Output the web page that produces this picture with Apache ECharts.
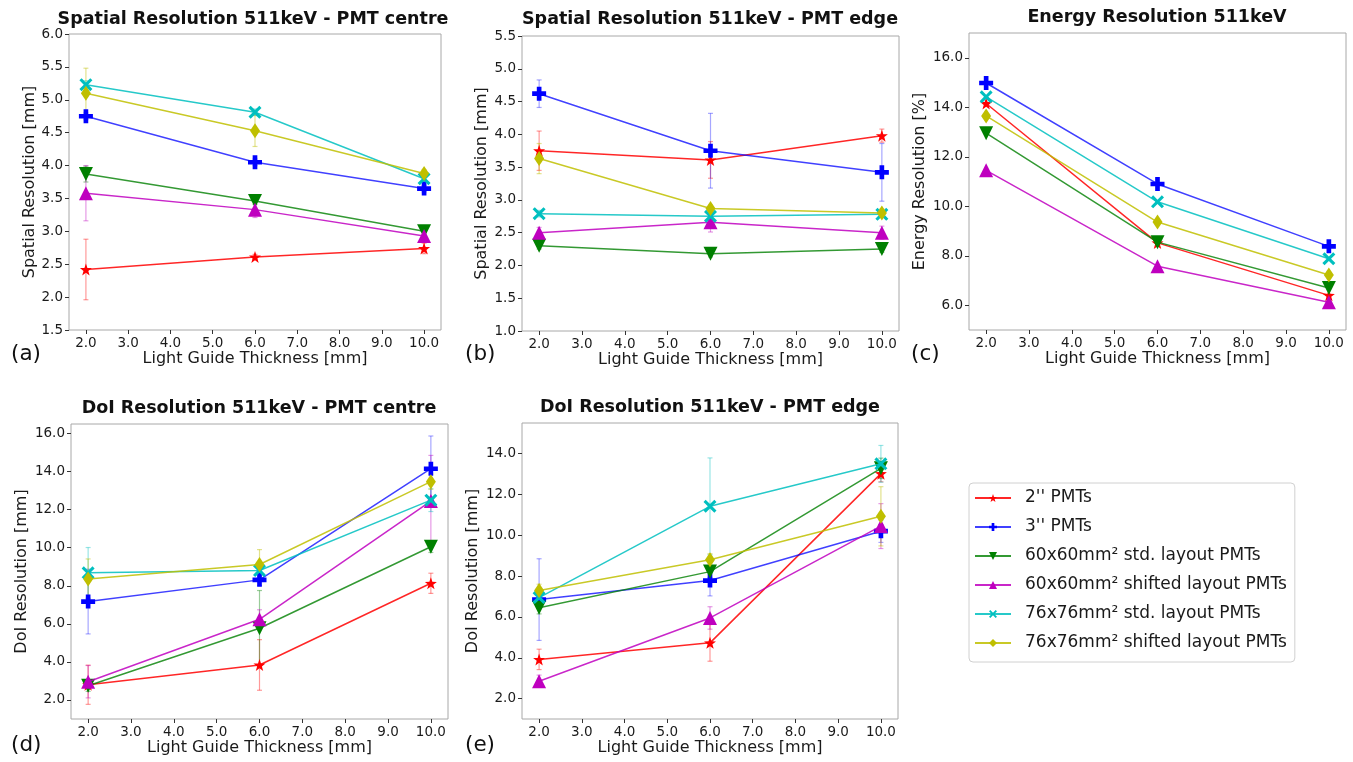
<!DOCTYPE html>
<html>
<head>
<meta charset="utf-8">
<script src="https://cdn.jsdelivr.net/npm/echarts@6/dist/echarts.min.js"></script>
<style>
html,body{margin:0;padding:0;background:#fff;}
#chart{width:1353px;height:762px;}
</style>
</head>
<body>
<div id="chart"></div>
<script>
// ---------- data ----------
const thickness = [2, 6, 10];
const xTickValues = [2, 3, 4, 5, 6, 7, 8, 9, 10];
const seriesNames = ["2'' PMTs", "3'' PMTs", "60x60mm² std. layout PMTs", "60x60mm² shifted layout PMTs", "76x76mm² std. layout PMTs", "76x76mm² shifted layout PMTs"];
const panelTitles = ["Spatial Resolution 511keV - PMT centre", "Spatial Resolution 511keV - PMT edge", "Energy Resolution 511keV", "DoI Resolution 511keV - PMT centre", "DoI Resolution 511keV - PMT edge"];
const panelLetters = ["(a)", "(b)", "(c)", "(d)", "(e)"];
const yAxisNames = ["Spatial Resolution [mm]", "Spatial Resolution [mm]", "Energy Resolution [%]", "DoI Resolution [mm]", "DoI Resolution [mm]"];
const xAxisName = "Light Guide Thickness [mm]";

const yTicksA = [1.5, 2.0, 2.5, 3.0, 3.5, 4.0, 4.5, 5.0, 5.5, 6.0];
const yTicksB = [1.0, 1.5, 2.0, 2.5, 3.0, 3.5, 4.0, 4.5, 5.0, 5.5];
const yTicksC = [6, 8, 10, 12, 14, 16];
const yTicksD = [2, 4, 6, 8, 10, 12, 14, 16];
const yTicksE = [2, 4, 6, 8, 10, 12, 14];

// (a) spatial resolution, PMT centre
const spatialCentre = [
  [2.42, 2.61, 2.74],
  [4.75, 4.05, 3.65],
  [3.87, 3.46, 3.00],
  [3.58, 3.33, 2.93],
  [5.23, 4.81, 3.80],
  [5.10, 4.53, 3.88]
];
const spatialCentreErr = [
  [0.46, 0.04, 0.08],
  [0.05, 0.05, 0.05],
  [0.12, 0.05, 0.05],
  [0.42, 0.12, 0.05],
  [0.06, 0.05, 0.05],
  [0.38, 0.24, 0.06]
];
// (b) spatial resolution, PMT edge
const spatialEdge = [
  [3.75, 3.61, 3.98],
  [4.62, 3.75, 3.42],
  [2.30, 2.18, 2.25],
  [2.50, 2.66, 2.50],
  [2.79, 2.75, 2.78],
  [3.63, 2.87, 2.80]
];
const spatialEdgeErr = [
  [0.30, 0.28, 0.10],
  [0.21, 0.57, 0.44],
  [0.05, 0.05, 0.05],
  [0.08, 0.15, 0.10],
  [0.05, 0.05, 0.05],
  [0.23, 0.05, 0.06]
];
// (c) energy resolution
const energyRes = [
  [14.15, 8.52, 6.40],
  [14.98, 10.90, 8.38],
  [12.95, 8.55, 6.70],
  [11.45, 7.58, 6.12],
  [14.42, 10.18, 7.88],
  [13.65, 9.36, 7.22]
];
const energyResErr = [
  [0, 0, 0],
  [0, 0, 0],
  [0, 0, 0],
  [0, 0, 0],
  [0, 0, 0],
  [0, 0, 0]
];
// (d) DoI resolution, PMT centre
const doiCentre = [
  [2.80, 3.84, 8.13],
  [7.17, 8.31, 14.15],
  [2.75, 5.77, 10.05],
  [2.96, 6.24, 12.45],
  [8.68, 8.80, 12.50],
  [8.36, 9.12, 13.47]
];
const doiCentreErr = [
  [1.03, 1.33, 0.53],
  [1.70, 0.30, 1.72],
  [0.30, 1.98, 0.30],
  [0.85, 0.50, 2.40],
  [1.33, 0.30, 0.60],
  [1.05, 0.78, 0.40]
];
// (e) DoI resolution, PMT edge
const doiEdge = [
  [3.92, 4.73, 13.02],
  [6.85, 7.78, 10.20],
  [6.45, 8.22, 13.28],
  [2.85, 5.95, 10.45],
  [6.95, 11.42, 13.50],
  [7.30, 8.80, 10.93]
];
const doiEdgeErr = [
  [0.50, 0.90, 0.40],
  [2.00, 0.75, 0.55],
  [0.30, 0.30, 0.50],
  [0.30, 0.55, 1.10],
  [0.30, 2.37, 0.90],
  [0.30, 0.30, 1.45]
];

// ---------- styling ----------
const colors = ['#ff0000', '#0000ff', '#008000', '#bf00bf', '#00bfbf', '#bfbf00'];
const errColors = ['rgba(255,0,0,0.4)', 'rgba(0,0,255,0.35)', 'rgba(0,128,0,0.4)', 'rgba(191,0,191,0.4)', 'rgba(0,191,191,0.4)', 'rgba(191,191,0,0.45)'];
const lineColors = ['rgba(255,0,0,0.85)', 'rgba(0,0,255,0.75)', 'rgba(0,128,0,0.8)', 'rgba(191,0,191,0.85)', 'rgba(0,191,191,0.85)', 'rgba(191,191,0,0.85)'];
const symbols = [
  'path://M0,-10L2.35,-3.24L9.51,-3.09L3.8,1.24L5.88,8.09L0,4L-5.88,8.09L-3.8,1.24L-9.51,-3.09L-2.35,-3.24Z',
  'path://M-2,-6H2V-2H6V2H2V6H-2V2H-6V-2H-2Z',
  'path://M-6,-5L6,-5L0,6Z',
  'path://M0,-6L6,5L-6,5Z',
  'path://M-6,-4L-4,-6L0,-2L4,-6L6,-4L2,0L6,4L4,6L0,2L-4,6L-6,4L-2,0Z',
  'path://M0,-6L3.6,0L0,6L-3.6,0Z'
];
const symbolSizes = [12, 14, 14, 14, 13, [10, 15]];

const FONT = '"DejaVu Sans", "Liberation Sans", sans-serif';

const grids = [
  {left: 69, top: 34, width: 372, height: 296},
  {left: 522, top: 36, width: 377, height: 295},
  {left: 969, top: 33, width: 377, height: 297},
  {left: 71, top: 424, width: 377, height: 295},
  {left: 522, top: 423, width: 376, height: 296}
];
const yRanges = [[1.5, 6.0], [1.0, 5.5], [5.0, 17.0], [1.0, 16.5], [1.0, 15.5]];
const yTickSets = [yTicksA, yTicksB, yTicksC, yTicksD, yTicksE];
const yNameGaps = [31, 32, 41, 41, 41];
const panelData = [spatialCentre, spatialEdge, energyRes, doiCentre, doiEdge];
const panelErr = [spatialCentreErr, spatialEdgeErr, energyResErr, doiCentreErr, doiEdgeErr];
const titlePos = [[253, 19], [710, 19], [1157, 17], [259, 408], [710, 407]];
const letterPos = [[11, 354], [465, 354], [911, 354], [11, 745], [465, 745]];

const axisLabelStyle = {color: '#1a1a1a', fontSize: 13.5, fontFamily: FONT};
const tickStyle = {show: true, length: 4, lineStyle: {color: '#333', width: 1}};

const xAxes = grids.map((g, i) => ({
  type: 'value', gridIndex: i, min: 1.6, max: 10.4,
  axisLine: {show: false},
  axisTick: Object.assign({customValues: xTickValues}, tickStyle),
  axisLabel: Object.assign({customValues: xTickValues, margin: 6, formatter: v => v.toFixed(1)}, axisLabelStyle),
  splitLine: {show: false},
  name: xAxisName, nameLocation: 'middle', nameGap: 21,
  nameTextStyle: {color: '#1a1a1a', fontSize: 16, fontFamily: FONT, verticalAlign: 'top'}
}));
const yAxes = grids.map((g, i) => ({
  type: 'value', gridIndex: i, min: yRanges[i][0], max: yRanges[i][1],
  axisLine: {show: false},
  axisTick: Object.assign({customValues: yTickSets[i]}, tickStyle),
  axisLabel: Object.assign({customValues: yTickSets[i], margin: 6, formatter: v => v.toFixed(1)}, axisLabelStyle),
  splitLine: {show: false},
  name: yAxisNames[i], nameLocation: 'middle', nameGap: yNameGaps[i], nameRotate: 90,
  nameTextStyle: {color: '#1a1a1a', fontSize: 16, fontFamily: FONT}
}));

const series = [];
panelData.forEach((rows, p) => {
  rows.forEach((vals, s) => {
    series.push({
      type: 'line', name: seriesNames[s], xAxisIndex: p, yAxisIndex: p,
      data: thickness.map((t, k) => [t, vals[k]]),
      symbol: symbols[s], symbolSize: symbolSizes[s],
      itemStyle: {color: colors[s]},
      lineStyle: {color: lineColors[s], width: 1.5},
      z: 3 + s, animation: false, silent: true
    });
  });
});
panelData.forEach((rows, p) => {
  rows.forEach((vals, s) => {
    const errs = panelErr[p][s];
    const d = thickness.map((t, k) => [t, vals[k] - errs[k], vals[k] + errs[k]]).filter((r, k) => errs[k] > 0);
    if (!d.length) return;
    series.push({
      type: 'custom', name: 'err' + p + '_' + s, xAxisIndex: p, yAxisIndex: p,
      data: d, z: 2, animation: false, silent: true,
      encode: {x: 0, y: [1, 2]},
      renderItem: (params, api) => {
        const lo = api.coord([api.value(0), api.value(1)]);
        const hi = api.coord([api.value(0), api.value(2)]);
        const st = {stroke: errColors[s], lineWidth: 1.2};
        return {type: 'group', children: [
          {type: 'line', shape: {x1: lo[0], y1: lo[1], x2: hi[0], y2: hi[1]}, style: st},
          {type: 'line', shape: {x1: lo[0] - 2.5, y1: lo[1], x2: lo[0] + 2.5, y2: lo[1]}, style: st},
          {type: 'line', shape: {x1: hi[0] - 2.5, y1: hi[1], x2: hi[0] + 2.5, y2: hi[1]}, style: st}
        ]};
      }
    });
  });
});

const graphics = [];
panelTitles.forEach((t, i) => {
  graphics.push({type: 'text', x: titlePos[i][0], y: titlePos[i][1], silent: true,
    style: {text: t, fontSize: 17.5, fontWeight: 'bold', fontFamily: FONT, fill: '#111', align: 'center', verticalAlign: 'middle'}});
});
panelLetters.forEach((t, i) => {
  graphics.push({type: 'text', x: letterPos[i][0], y: letterPos[i][1], silent: true,
    style: {text: t, fontSize: 21.5, fontFamily: FONT, fill: '#111', align: 'left', verticalAlign: 'middle'}});
});

const chart = echarts.init(document.getElementById('chart'), null, {renderer: 'canvas'});
chart.setOption({
  animation: false,
  backgroundColor: '#fff',
  grid: grids.map(g => Object.assign({show: true, borderColor: '#a8a8a8', borderWidth: 1, backgroundColor: 'transparent'}, g)),
  xAxis: xAxes,
  yAxis: yAxes,
  legend: {
    data: seriesNames, orient: 'vertical', left: 969, top: 483,
    padding: [5, 8, 9, 5], itemGap: 9, itemWidth: 36, itemHeight: 10,
    borderColor: '#d0d0d0', borderWidth: 1, borderRadius: 4,
    textStyle: {color: '#1a1a1a', fontSize: 17, fontFamily: FONT, lineHeight: 20, padding: [0, 0, 0, 9]},
    selectedMode: false
  },
  graphic: graphics,
  series: series
});
</script>
</body>
</html>
